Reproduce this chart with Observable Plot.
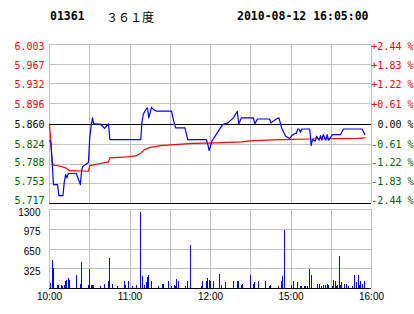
<!DOCTYPE html>
<html><head><meta charset="utf-8">
<script src="https://cdn.jsdelivr.net/npm/d3@7"></script>
<script src="https://cdn.jsdelivr.net/npm/@observablehq/plot@0.6"></script>
<style>
html,body{margin:0;padding:0;background:#fff;}
#wrap{position:relative;width:414px;height:314px;overflow:hidden;background:#fff;}
.h{position:absolute;top:9px;line-height:15px;white-space:pre;color:#000;}
.mono{font:bold 11.5px "DejaVu Sans Mono",monospace;}
.cjk{font:12px "Noto Sans CJK SC",sans-serif;}
#c1{position:absolute;left:0;top:35px;z-index:2;}
#c2{position:absolute;left:0;top:205px;z-index:1;}
</style></head>
<body><div id="wrap">
<div class="h mono" style="left:50px">01361</div>
<div class="h cjk" style="left:106px;top:8px">３６１度</div>
<div class="h mono" style="left:237px">2010-08-12 16:05:00</div>
<div id="c1"></div><div id="c2"></div>
</div>
<script>
// ---- data (trading minutes from 10:00; 12:30 and 14:30 share minute 150) ----
const prevClose = 5.860;
const priceLabels = ["6.003","5.967","5.932","5.896","5.860","5.824","5.788","5.753","5.717"];
const pctLabels = ["+2.44 %","+1.83 %","+1.22 %","+0.61 %","0.00 %","-0.61 %","-1.22 %","-1.83 %","-2.44 %"];
const volLabels = ["1300","975","650","325"];
const timeLabels = ["10:00","11:00","12:00","15:00","16:00"];
const timeLabelMin = [0,60,120,180,240];
const gridMin = [0,30,60,90,120,150,180,210,240];

const priceMin = [0,1,3,6,7,10,11,12,13,14,20,23,24,25,27,29,30,31,32,33,38,41,44,45,68,69,70,72,73,74,76,78,80,91,92,94,101,103,117,118,119,121,125,129,133,137,140,141,143,152,153,155,164,165,169,171,173,176,179,181,183,184,185,186,187,188,194,195,196,198,199,201,202,203,204,206,207,208,211,217,219,233,235];
const priceVal = [5.830,5.829,5.751,5.751,5.731,5.731,5.755,5.769,5.763,5.771,5.771,5.751,5.778,5.784,5.787,5.791,5.835,5.856,5.871,5.860,5.860,5.852,5.860,5.832,5.832,5.865,5.878,5.887,5.889,5.871,5.890,5.885,5.883,5.883,5.871,5.853,5.853,5.832,5.832,5.823,5.812,5.829,5.844,5.859,5.862,5.871,5.883,5.860,5.871,5.871,5.860,5.869,5.869,5.862,5.869,5.871,5.853,5.838,5.834,5.840,5.843,5.843,5.851,5.851,5.845,5.851,5.851,5.821,5.832,5.829,5.838,5.831,5.839,5.831,5.841,5.831,5.841,5.831,5.841,5.841,5.851,5.851,5.841];

const avgMin = [0,2,3,8,12,15,29,30,36,44,45,58,65,68,71,75,83,93,107,124,143,152,173,194,230,235];
const avgVal = [5.860,5.792,5.786,5.784,5.781,5.776,5.775,5.785,5.788,5.792,5.799,5.801,5.803,5.808,5.814,5.818,5.821,5.823,5.825,5.826,5.828,5.830,5.832,5.833,5.834,5.835];

const volMin = [1,2,3,6,7,9,10,11,12,13,14,15,20,23,24,29,30,31,32,33,38,41,44,45,47,51,56,57,59,62,65,68,69,71,72,73,74,76,81,84,85,89,91,93,94,95,96,101,103,105,113,114,117,118,119,120,122,127,128,131,137,140,141,143,144,150,152,153,156,161,164,165,171,173,174,175,180,182,185,187,188,190,191,192,194,195,200,201,203,204,206,207,208,211,212,213,214,215,216,217,218,220,221,223,226,227,229,230,231,232,233,235];
const volVal = [82,466,329,55,55,55,40,55,121,137,165,126,219,71,422,55,318,55,55,55,38,71,121,494,71,38,121,55,121,38,55,1245,203,55,93,181,219,121,38,71,71,110,38,55,38,154,110,38,121,713,38,121,121,165,137,110,121,236,55,93,121,121,110,55,71,219,71,104,121,121,38,55,38,110,203,960,55,121,104,38,38,38,38,38,313,219,71,71,38,55,55,71,55,38,126,110,38,55,532,55,93,71,71,38,38,219,93,219,55,121,71,121];

// ---- tables ----
const price = priceMin.map((m,i)=>({m, v:priceVal[i]}));
const avg = avgMin.map((m,i)=>({m, v:avgVal[i]}));
const vol = volMin.map((m,i)=>({m, v:volVal[i]}));
const labColor = (i)=> i<4 ? "#ff0000" : i===4 ? "#000000" : "#006400";
const mono = "DejaVu Sans Mono";
const narrow = "Liberation Sans Narrow, Liberation Sans, Arial";

// label groups: top label nudged down, bottom label nudged up (as in the reference)
const groups = [
  {idx:[0], dy:2.5},
  {idx:[1,2,3,4,5], dy:1},
  {idx:[6,7], dy:-1.5},
  {idx:[8], dy:-2.5}
];
const labelMarks = groups.flatMap(g => [
  Plot.text(g.idx,{frameAnchor:"left", y:i=>+priceLabels[i], text:i=>priceLabels[i], fill:i=>labColor(i),
    textAnchor:"end", dx:-5, dy:g.dy, fontFamily:mono, fontSize:10}),
  Plot.text(g.idx,{frameAnchor:"right", y:i=>+priceLabels[i], text:i=>pctLabels[i], fill:i=>labColor(i),
    textAnchor:"end", dx:42, dy:g.dy, fontFamily:mono, fontSize:10})
]);

const p1 = Plot.plot({
  width:414, height:175, marginLeft:49, marginRight:43, marginTop:9, marginBottom:7,
  style:{background:"transparent", overflow:"visible"},
  x:{domain:[0,240], axis:null},
  y:{domain:[5.717,6.003], axis:null},
  color:{type:"identity"},
  marks:[
    Plot.ruleX(gridMin,{stroke:"#c0c0c0", shapeRendering:"crispEdges"}),
    Plot.ruleY(priceLabels,{y:d=>+d, stroke:"#c0c0c0", shapeRendering:"crispEdges"}),
    Plot.ruleY([prevClose, 5.717],{stroke:"#000", shapeRendering:"crispEdges"}),
    Plot.line(avg,{x:"m", y:"v", stroke:"#ff0000", strokeWidth:1.2}),
    Plot.line(price,{x:"m", y:"v", stroke:"#0000ff", strokeWidth:1.2}),
    ...labelMarks
  ]
});
document.getElementById("c1").appendChild(p1);

const p2 = Plot.plot({
  width:414, height:109, marginLeft:49, marginRight:43, marginTop:4, marginBottom:26,
  style:{background:"transparent", overflow:"visible"},
  x:{domain:[0,240], axis:null},
  y:{domain:[0,1300], axis:null},
  marks:[
    Plot.ruleX(gridMin,{stroke:"#c0c0c0", shapeRendering:"crispEdges"}),
    Plot.ruleY(volLabels,{y:d=>+d, stroke:"#c0c0c0", shapeRendering:"crispEdges"}),
    Plot.ruleX(vol,{x:"m", y1:0, y2:"v", stroke:"#0000ff", strokeWidth:1, shapeRendering:"crispEdges"}),
    Plot.ruleY([0],{stroke:"#000", shapeRendering:"crispEdges"}),
    Plot.text(volLabels,{frameAnchor:"left", y:d=>+d, text:d=>d, textAnchor:"end", dx:-9, dy:3,
      fill:"#000", fontFamily:narrow, fontSize:10}),
    Plot.text(timeLabels,{x:(d,i)=>timeLabelMin[i], frameAnchor:"bottom", text:d=>d, dy:11,
      fill:"#000", fontFamily:narrow, fontSize:10})
  ]
});
document.getElementById("c2").appendChild(p2);
</script>
</body></html>
